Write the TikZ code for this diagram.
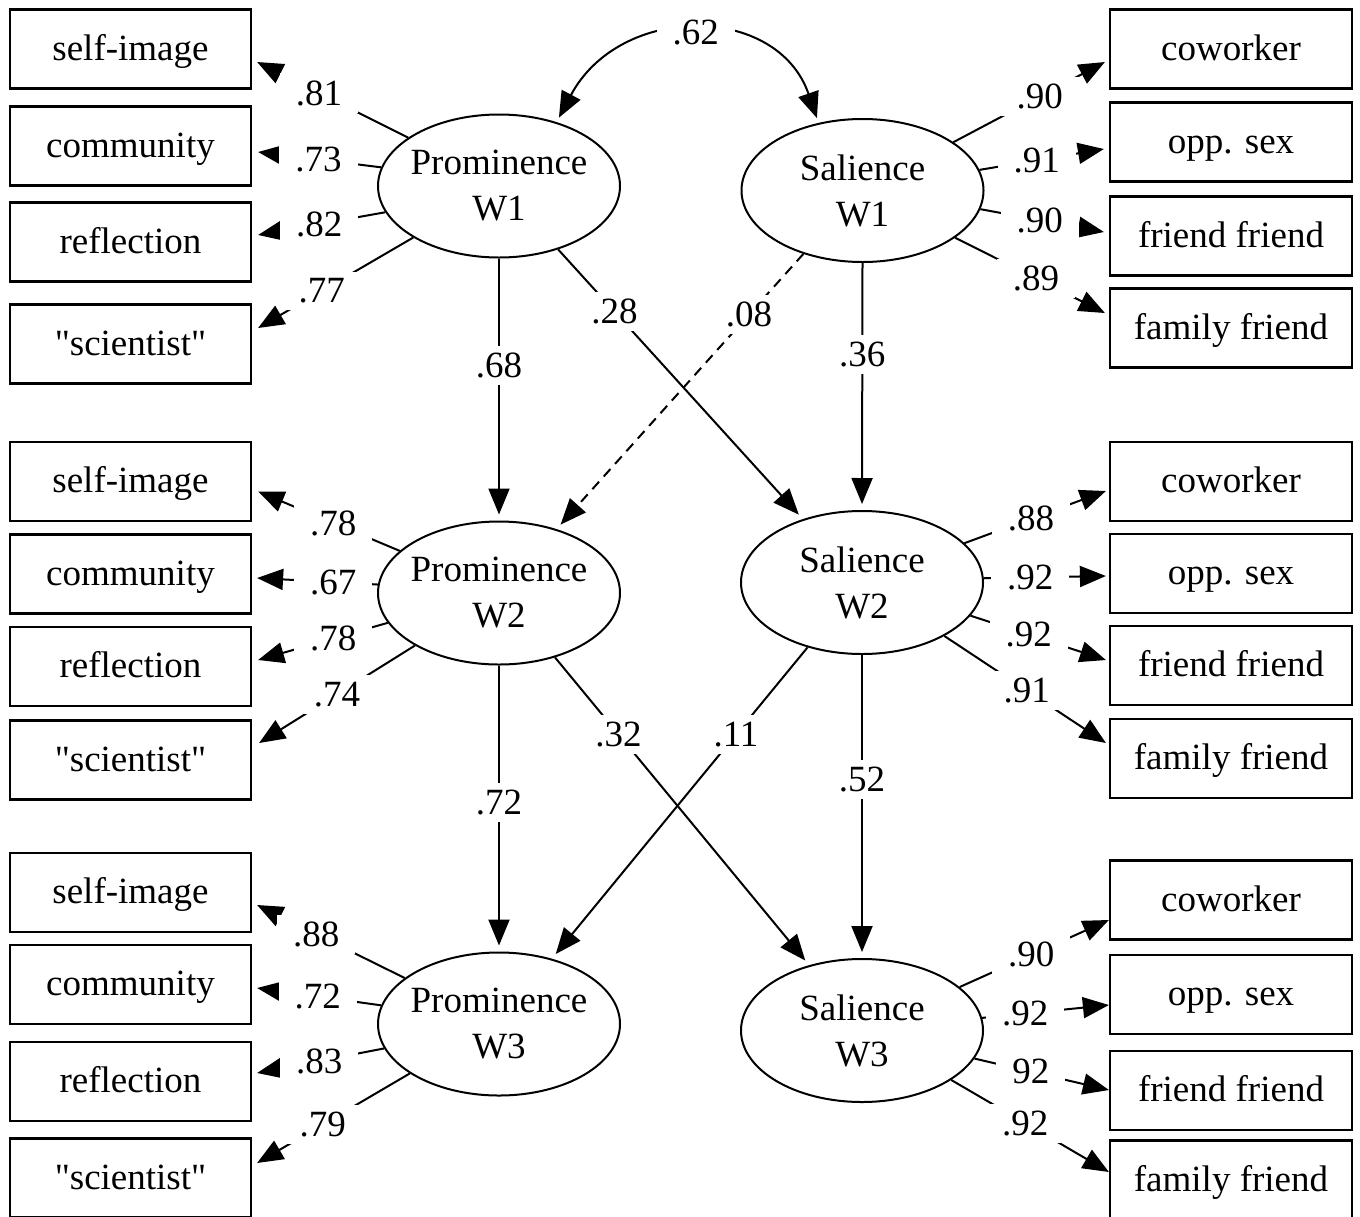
\documentclass[tikz,border=0pt]{standalone}
\usepackage{fontspec}
\setmainfont{Liberation Serif}[Ligatures=TeXOff]
\usetikzlibrary{arrows.meta,shapes.geometric,calc}
\begin{document}
\begin{tikzpicture}[x=1pt,y=-1pt,
  every node/.style={font=\fontsize{37}{46}\selectfont},
  obs/.style={draw,line width=2.2pt,minimum width=241pt,minimum height=79pt,inner sep=0pt,text height=25pt,text depth=3pt},
  obsr/.style={obs,minimum width=242pt},
  lat/.style={draw,ellipse,line width=2pt,minimum width=242pt,minimum height=143pt,inner sep=-15pt,align=center},
  lbl/.style={fill=white,inner xsep=16pt,inner ysep=7pt},
  tip/.style={-{Triangle[length=26pt,width=21pt]}},
  ld/.style={line width=2pt,tip},
  pth/.style={line width=2pt,tip,shorten >=6pt},
]
\useasboundingbox (0,0) rectangle (1360,1216);

% observed indicators, left
\node[obs] (si1) at (130.5,49) {self-image};
\node[obs] (co1) at (130.5,146) {community};
\node[obs] (re1) at (130.5,242) {reflection};
\node[obs] (sc1) at (130.5,344) {"scientist"};
\node[obs] (si2) at (130.5,481.5) {self-image};
\node[obs] (co2) at (130.5,574) {community};
\node[obs] (re2) at (130.5,666.5) {reflection};
\node[obs] (sc2) at (130.5,760) {"scientist"};
\node[obs] (si3) at (130.5,892.5) {self-image};
\node[obs] (co3) at (130.5,984.5) {community};
\node[obs] (re3) at (130.5,1081.5) {reflection};
\node[obs] (sc3) at (130.5,1178) {"scientist"};

% observed indicators, right
\node[obsr] (cw1) at (1231,49) {coworker};
\node[obsr] (os1) at (1231,142) {opp. sex};
\node[obsr] (ff1) at (1231,236) {friend friend};
\node[obsr] (fm1) at (1231,328) {family friend};
\node[obsr] (cw2) at (1231,481.5) {coworker};
\node[obsr] (os2) at (1231,573.5) {opp. sex};
\node[obsr] (ff2) at (1231,665.5) {friend friend};
\node[obsr] (fm2) at (1231,758.5) {family friend};
\node[obsr] (cw3) at (1231,900) {coworker};
\node[obsr] (os3) at (1231,994.5) {opp. sex};
\node[obsr] (ff3) at (1231,1090.5) {friend friend};
\node[obsr] (fm3) at (1231,1180) {family friend};

% latent variables
\node[lat] (P1) at (499,186) {Prominence\\W1};
\node[lat] (S1) at (862.5,190.5) {Salience\\W1};
\node[lat] (P2) at (499,593) {Prominence\\W2};
\node[lat] (S2) at (862,582.5) {Salience\\W2};
\node[lat] (P3) at (499,1024) {Prominence\\W3};
\node[lat] (S3) at (862,1030.5) {Salience\\W3};

% loadings W1
\draw[ld] (P1.152) -- node[lbl,pos=.59]{.81} ($(si1.east)+(5,13)$);
\draw[ld] (P1.171) -- node[lbl,pos=.51]{.73} ($(co1.east)+(6,6)$);
\draw[ld] (P1.193) -- node[lbl,pos=.52]{.82} ($(re1.east)+(6,-7)$);
\draw[ld] (P1.211) -- node[lbl,pos=.59]{.77} ($(sc1.east)+(6,-16)$);
\draw[ld] (S1.28) -- node[lbl,pos=.57]{.90} ($(cw1.west)+(-4,13)$);
\draw[ld] (S1.10) -- node[lbl,pos=.46]{.91} ($(os1.west)+(-5,7)$);
\draw[ld] (S1.-9.4) -- node[lbl,pos=.48]{.90} ($(ff1.west)+(-5,-4)$);
\draw[ld] (S1.-27) -- node[lbl,pos=.54]{.89} ($(fm1.west)+(-4,-15)$);

% loadings W2
\draw[ld] (P2.157) -- node[lbl,pos=.47]{.78} ($(si2.east)+(6,10)$);
\draw[ld] (P2.176) -- node[lbl,pos=.37]{.67} ($(co2.east)+(5,4)$);
\draw[ld] (P2.195) -- node[lbl,pos=.42]{.78} ($(re2.east)+(6,-6.5)$);
\draw[ld] (P2.212) -- node[lbl,pos=.50]{.74} ($(sc2.east)+(7,-17)$);
\draw[ld] (S2.21) -- node[lbl,pos=.47]{.88} ($(cw2.west)+(-3,9.5)$);
\draw[ld] (S2.2) -- node[lbl,pos=.38]{.92} ($(os2.west)+(-3,2.5)$);
\draw[ld] (S2.-17.4) -- node[lbl,pos=.43]{.92} ($(ff2.west)+(-3,-5.5)$);
\draw[ld] (S2.-33) -- node[lbl,pos=.51]{.91} ($(fm2.west)+(-3,-15.5)$);

% loadings W3
\draw[ld] (P3.154) -- node[lbl,pos=.60]{.88} ($(si3.east)+(5,12.5)$);
\draw[ld] (P3.171) -- node[lbl,pos=.51]{.72} ($(co3.east)+(5,3.5)$);
\draw[ld] (P3.192) -- node[lbl,pos=.51]{.83} ($(re3.east)+(5,-8.5)$);
\draw[ld] (P3.209) -- node[lbl,pos=.57]{.79} ($(sc3.east)+(5,-15)$);
\draw[ld] (S3.24) -- node[lbl,pos=.48]{.90} ($(cw3.west)+(0,20)$);
\draw[ld] (S3.6) -- node[lbl,pos=.34]{.92} ($(os3.west)+(0,10.5)$);
\draw[ld] (S3.-14) -- node[lbl,pos=.42]{92} ($(ff3.west)+(0,-0.5)$);
\draw[ld] (S3.-29) -- node[lbl,pos=.47]{.92} ($(fm3.west)+(0,-8)$);

% structural paths
\draw[pth] (P1.south) -- node[lbl,pos=.41]{.68} (P2.north);
\draw[pth] (S1.south) -- node[lbl,pos=.37]{.36} (S2.north);
\draw[pth] (P1.313) -- node[lbl,pos=.23]{.28} (S2.133);
\draw[pth,dash pattern=on 10pt off 7pt] (S1.227) -- node[lbl,pos=.22]{.08} (P2.48);
\draw[pth] (P2.south) -- node[lbl,pos=.48]{.72} (P3.north);
\draw[pth] (S2.south) -- node[lbl,pos=.41]{.52} (S3.north);
\draw[pth] (P2.311) -- node[lbl,pos=.25]{.32} (S3.129);
\draw[pth] (S2.230) -- node[lbl,pos=.28]{.11} (P3.51);

% covariance
\draw[line width=2pt,{Triangle[length=26pt,width=21pt]}-{Triangle[length=26pt,width=21pt]},shorten <=5pt,shorten >=5pt]
  (P1.48) .. controls (620,3) and (777,3) .. node[lbl]{.62} (S1.123);
\end{tikzpicture}
\end{document}
